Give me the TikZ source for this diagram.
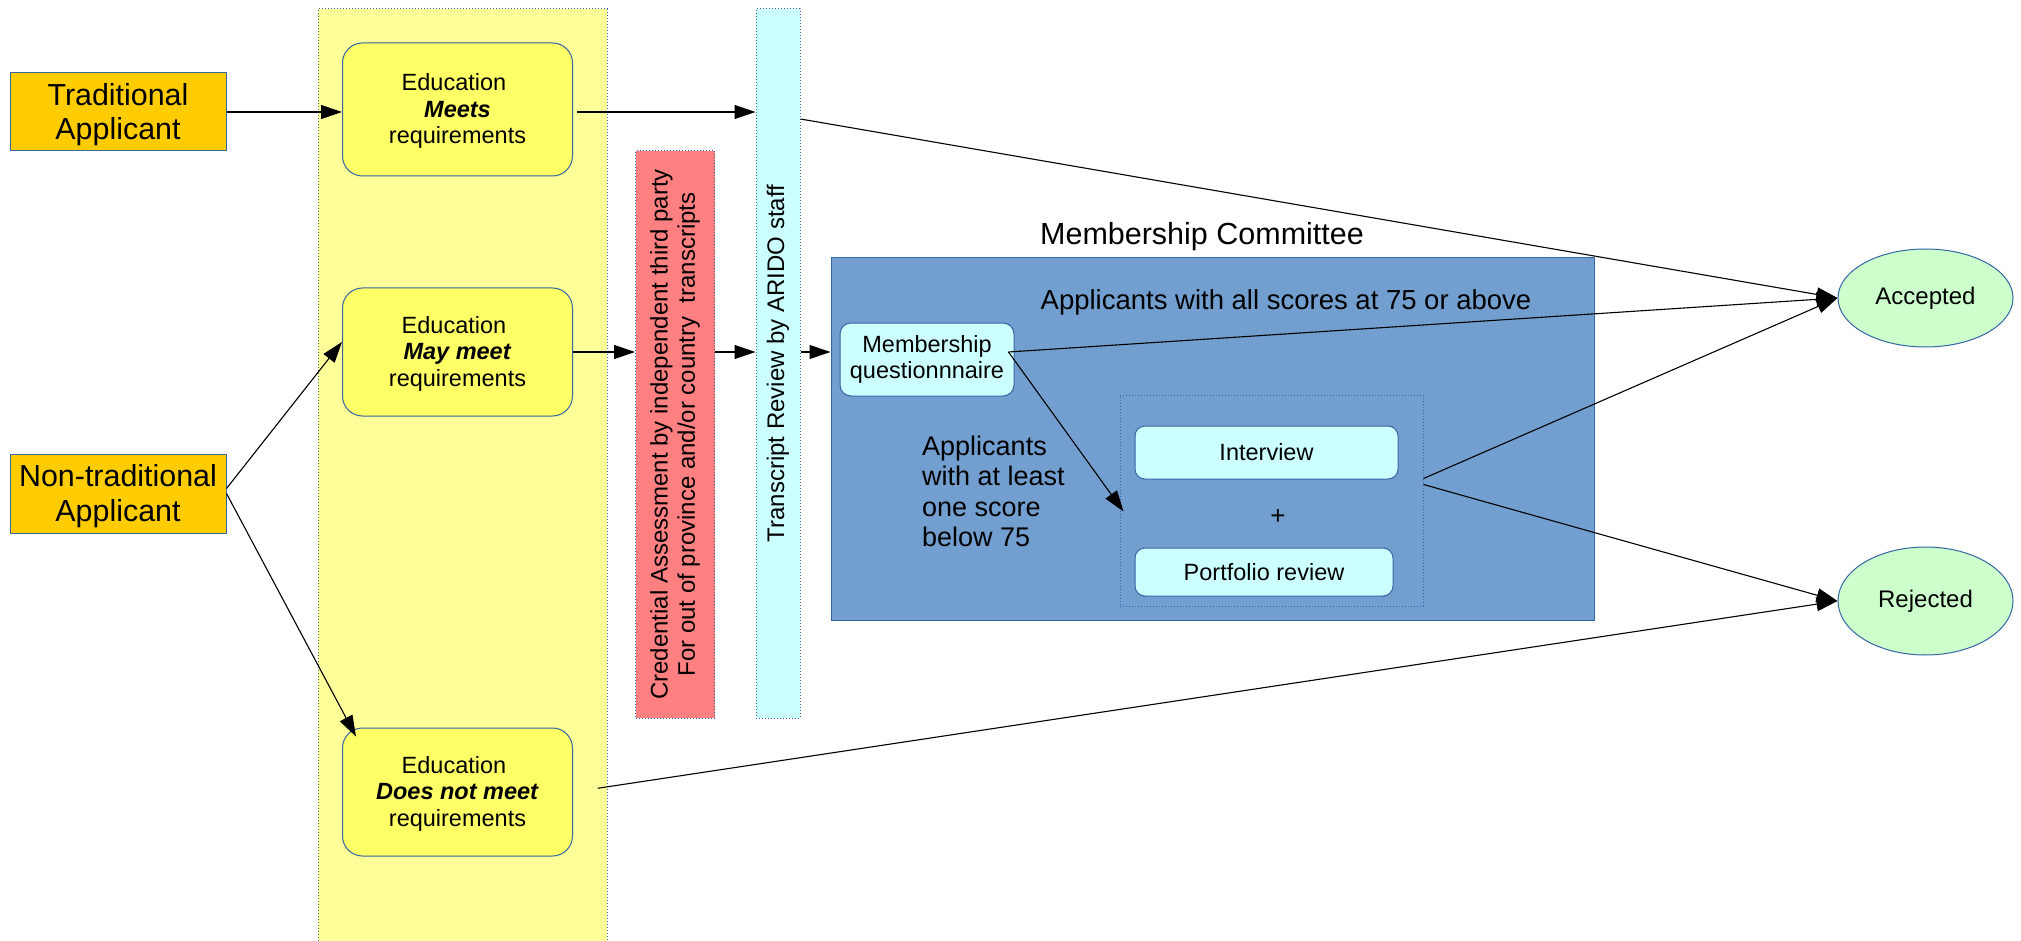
\documentclass[tikz,border=0pt]{standalone}
\usepackage{fontspec}
\setmainfont{Liberation Sans}
\usetikzlibrary{arrows.meta,calc,shapes.geometric}

\definecolor{edgeblue}{HTML}{3465A4}
\definecolor{applicant}{HTML}{FFCC00}
\definecolor{laneyellow}{HTML}{FFFF99}
\definecolor{eduyellow}{HTML}{FFFF66}
\definecolor{assessred}{HTML}{FF8080}
\definecolor{paleaqua}{HTML}{CCFFFF}
\definecolor{committee}{HTML}{729FCF}
\definecolor{palegreen}{HTML}{CCFFCC}

\newcommand{\fs}[1]{\fontsize{#1}{1.13\dimexpr#1pt\relax}\selectfont}
% taller first line so a two-line label sits centred on its baselines
\newcommand{\toprule}[1]{\rule{0pt}{#1}}

\tikzset{
  box/.style={draw=edgeblue, line width=1pt, inner sep=0pt, align=center},
  applicantbox/.style={box, fill=applicant, minimum width=216pt, font=\fs{30.4}},
  edubox/.style={box, fill=eduyellow, rounded corners=20pt,
                 minimum width=230pt, font=\fs{23.5}},
  lane/.style={draw=edgeblue, dotted, line width=1pt, inner sep=0pt},
  softbox/.style={box, fill=paleaqua, rounded corners=11pt, font=\fs{23.5}},
  outcome/.style={box, ellipse, fill=palegreen, minimum width=175pt, font=\fs{24}},
  flow/.style={line width=1.1pt, -{Triangle[length=21pt,width=14pt]}},
}

\begin{document}
\begin{tikzpicture}[x=1pt,y=-1pt]
\useasboundingbox (0,0) rectangle (2021,941);

% swim lane behind the education outcomes
\fill[laneyellow] (318,9) rectangle (607,950);
\draw[lane] (318,950) -- (318,9) -- (607,9) -- (607,950);

% applicants
\node[applicantbox, minimum height=78pt] (trad) at (118,112)
  {\toprule{27pt}Traditional\\Applicant};
\node[applicantbox, minimum height=79pt] (nontrad) at (118,493.5)
  {\toprule{27pt}Non-traditional\\Applicant};

% education outcomes
\node[edubox, minimum height=133pt] (meets) at (457.5,109.5)
  {\toprule{20pt}Education\hspace*{7pt}\\\textbf{\textit{Meets}}\\requirements};
\node[edubox, minimum height=128pt] (maymeet) at (457.5,352)
  {\toprule{20pt}Education\hspace*{7pt}\\\textbf{\textit{May meet}}\\requirements};
\node[edubox, minimum height=128pt] (notmeet) at (457.5,792)
  {\toprule{20pt}Education\hspace*{7pt}\\\textbf{\textit{Does not meet}}\\requirements};

% credential assessment and transcript review columns
\node[lane, fill=assessred, minimum width=79pt, minimum height=567pt] (assess) at (675,434.5) {};
\node[rotate=90, align=center, font=\fs{24}] at (assess.center)
  {Credential Assessment by independent third party\\For out of province and/or country\ \ transcripts};
\node[lane, fill=paleaqua, minimum width=44pt, minimum height=709pt] (review) at (778,363.5) {};
\node[rotate=90, font=\fs{24}] at (review.center) {Transcript Review by ARIDO staff};

% membership committee
\node[box, fill=committee, minimum width=763pt, minimum height=362pt] (comm) at (1212.5,439) {};
\node[anchor=base, font=\fs{30.5}, inner sep=0pt] (commtitle) at (1202,245) {Membership Committee};
\node[anchor=base, font=\fs{27.5}, inner sep=0pt] (passnote) at (1286,309)
  {Applicants with all scores at 75 or above};
\node[anchor=north west, align=left, font=\fontsize{27}{30.5}\selectfont, inner sep=0pt]
  (failnote) at (922,435.5) {Applicants\\with at least\\one score\\below 75};
\node[softbox, minimum width=174pt, minimum height=73pt] (quest) at (927,359.5)
  {Membership\\questionnnaire};
\node[lane, minimum width=303pt, minimum height=211pt] (panel) at (1271.5,500.5) {};
\node[softbox, rounded corners=10pt, minimum width=263pt, minimum height=53pt] (interview)
  at (1266.5,452.5) {Interview};
\node[font=\fs{26}, inner sep=0pt] (plus) at (1278,517) {+};
\node[softbox, rounded corners=10pt, minimum width=258pt, minimum height=48pt] (portfolio)
  at (1264,572) {Portfolio review};

% outcomes
\node[outcome, minimum height=98pt] (accepted) at (1925.5,298) {Accepted};
\node[outcome, minimum height=108pt] (rejected) at (1925.5,601) {Rejected};

% connector end points
\coordinate (questout) at ($(quest.east)+(-6,-7.5)$);
\coordinate (panelup) at ($(panel.east)+(0,-22)$);
\coordinate (paneldown) at ($(panel.east)+(0,-16)$);
\coordinate (reviewout) at ($(review.east |- trad.east)+(0,7)$);

% flow
\draw[flow] (trad.east) -- (trad.east -| meets.west);
\draw[flow, shorten <=4pt] (meets.east |- trad.east) -- (review.west |- trad.east);
\draw[flow] ($(nontrad.east)+(0,-5)$) -- (maymeet.175);
\draw[flow] (nontrad.east) -- ($(notmeet.north west)+(14,9)$);
\draw[flow] (maymeet.east) -- (maymeet.east -| assess.west);
\draw[flow] (assess.east |- maymeet.east) -- (review.west |- maymeet.east);
\draw[flow] (review.east |- maymeet.east) -- (comm.west |- maymeet.east);
\draw[flow] (reviewout) -- (accepted.west);
\draw[flow] (questout) -- (accepted.west);
\draw[flow] (questout) -- ($(panel.west)+(4,11)$);
\draw[flow] (panelup) -- (accepted.west);
\draw[flow] (paneldown) -- (rejected.west);
\draw[flow, shorten <=25pt] (notmeet.east) -- (rejected.west);
\end{tikzpicture}
\end{document}
